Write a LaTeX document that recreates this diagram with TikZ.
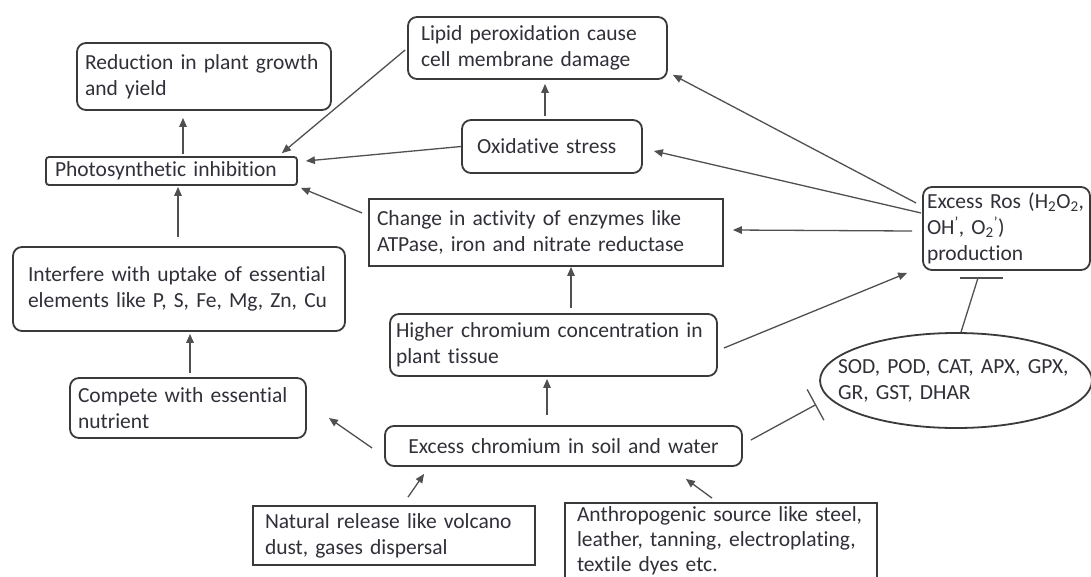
\documentclass[tikz,border=0pt]{standalone}
\usepackage{fontspec}
\setmainfont{Carlito}[Ligatures={NoCommon}]
\usetikzlibrary{calc,shapes.geometric,arrows.meta}
\definecolor{borde}{RGB}{58,58,58}
\definecolor{flecha}{RGB}{80,80,80}
\definecolor{letra}{RGB}{48,48,56}

\begin{document}
\begin{tikzpicture}[x=1pt,y=-1pt,
  rbox/.style={draw=borde,line width=1.8pt,rounded corners=9pt,text=letra,
    font=\fontsize{21.5pt}{26pt}\selectfont,align=left,inner ysep=0pt},
  sbox/.style={rbox,rounded corners=0pt},
  elip/.style={sbox,ellipse},
  arr/.style={-{Triangle[length=9pt,width=7.5pt]},draw=flecha,line width=1.3pt},
  inh/.style={draw=flecha,line width=1.3pt}
  ]
  \useasboundingbox (0,0) rectangle (1091,576);
  \clip (0,0) rectangle (1091,576);
  \fill[white] (0,0) rectangle (1091,576);

  \node[rbox,minimum width=254pt,minimum height=67pt,text width=238pt,inner xsep=8pt] (red) at (204,76.5) {Reduction in plant growth\\and yield};
  \node[rbox,rounded corners=3pt,minimum width=251pt,minimum height=28pt,text width=233pt,inner xsep=9pt] (photo) at (171.5,171) {Photosynthetic inhibition};
  \node[rbox,minimum width=259pt,minimum height=62pt,text width=233pt,inner xsep=13pt] (lipid) at (537.5,48) {Lipid peroxidation cause\\cell membrane damage};
  \node[rbox,minimum width=180pt,minimum height=53pt,text width=150pt,inner xsep=15pt] (oxid) at (552,146.5) {Oxidative stress};
  \node[sbox,minimum width=354pt,minimum height=67pt,text width=338pt,inner xsep=8pt] (enzch) at (546,232.5) {Change in activity of enzymes like\\ATPase, iron and nitrate reductase};
  \node[rbox,minimum width=167pt,minimum height=83pt,text width=159pt,inner xsep=4pt] (ros) at (1006.5,228.5) {Excess Ros (H\textsubscript{2}O\textsubscript{2},\\OH\textsuperscript{'}, O\textsubscript{2}\textsuperscript{'})\\production};
  \node[rbox,minimum width=332pt,minimum height=84pt,text width=302pt,inner xsep=15pt] (interf) at (179,289) {Interfere with uptake of essential\\elements like P, S, Fe, Mg, Zn, Cu};
  \node[rbox,minimum width=327pt,minimum height=62pt,text width=315pt,inner xsep=6pt] (higher) at (553.5,345) {Higher chromium concentration in\\plant tissue};
  \node[rbox,minimum width=236pt,minimum height=60pt,text width=220pt,inner xsep=8pt] (compete) at (188,408) {Compete with essential\\nutrient};
  \node[rbox,align=center,minimum width=357pt,minimum height=40pt,text width=341pt,inner xsep=8pt] (excess) at (563.5,446) {Excess chromium in soil and water};
  \node[elip,minimum width=272pt,minimum height=95pt,text width=236pt,inner xsep=-22pt] (antiox) at (956,380.5) {SOD, POD, CAT, APX, GPX,\\GR, GST, DHAR};
  \node[sbox,minimum width=282pt,minimum height=59pt,text width=258pt,inner xsep=12pt] (natural) at (394,535.5) {Natural release like volcano\\dust, gases dispersal};
  \node[sbox,font=\fontsize{21.5pt}{25pt}\selectfont,minimum width=312pt,minimum height=76pt,text width=288pt,inner xsep=12pt] (anthro) at (721,541) {Anthropogenic source like steel,\\leather, tanning, electroplating,\\textile dyes etc.};

  \draw[arr] ($(photo.north)+(11.5,-2)$) -- ($(red.south)+(-21,7)$);
  \draw[arr] ($(interf.north)+(-1,-9)$) -- ($(photo.south)+(6.5,1)$);
  \draw[arr] ($(lipid.west)+(-2,2)$) -- ($(photo.north east)+(-16,-3)$);
  \draw[arr] (oxid.west) -- ($(photo.east)+(8,-10)$);
  \draw[arr] ($(enzch.west)+(-6,-19.5)$) -- ($(photo.south east)+(3,2)$);
  \draw[arr] ($(oxid.north)+(-7,-3)$) -- ($(lipid.south)+(7.5,4)$);
  \draw[arr] ($(ros.west)+(-6,-25.5)$) -- ($(lipid.south east)+(5,-5)$);
  \draw[arr] ($(ros.west)+(-1,-15.5)$) -- ($(oxid.east)+(11,4.5)$);
  \draw[arr] ($(ros.west)+(-10,2.5)$) -- ($(enzch.east)+(9,-2.5)$);
  \draw[arr] ($(higher.north)+(17.5,-5)$) -- ($(enzch.south)+(25,0)$);
  \draw[arr] ($(higher.east)+(6,3)$) -- ($(ros.south west)+(-15,2)$);
  \draw[arr] ($(excess.north)+(-16.5,-10)$) -- ($(higher.south)+(-6.5,2)$);
  \draw[arr] ($(compete.north)+(2,-4)$) -- ($(interf.south)+(11,2)$);
  \draw[arr] ($(excess.west)+(-12,2)$) -- ($(compete.east)+(22,10)$);
  \draw[arr] ($(natural.north)+(14,-8)$) -- ($(excess.south west)+(40,7)$);
  \draw[arr] ($(anthro.north)+(-9,-4)$) -- ($(excess.south east)+(-57,12)$);

  \draw[inh] ($(antiox.north)+(5,0)$) -- ($(ros.south)+(-28.5,7)$);
  \draw[inh] ($(ros.south)+(-46.5,7)$) -- ($(ros.south)+(-3.5,7)$);
  \draw[inh,-{Bar[width=35pt]}] ($(excess.east)+(8,-6)$) -- ($(antiox.west)+(-3,24)$);

\end{tikzpicture}
\end{document}
